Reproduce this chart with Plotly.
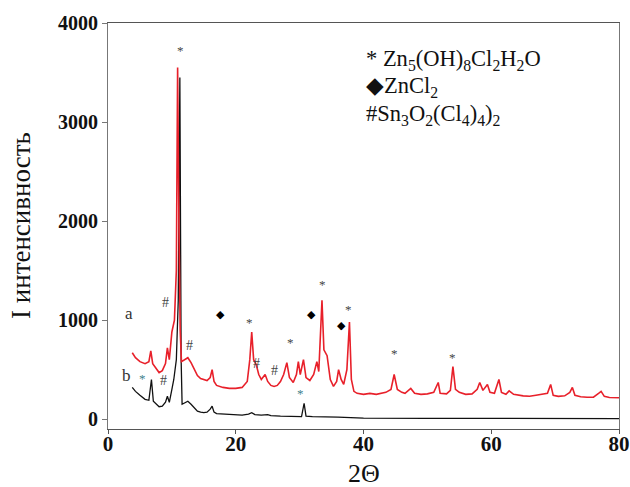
import plotly.graph_objects as go

# ---- data ----
red_x = [3.8, 4.3, 5.0, 5.8, 6.4, 6.7, 7.0, 7.5, 8.0, 8.5, 9.0, 9.3, 9.6, 10.0, 10.4, 10.7, 10.9, 11.1, 11.3,
         11.5, 12.0, 12.5, 13.0, 13.5, 14.0, 14.5, 15.0, 15.5, 16.0, 16.3, 16.6, 17.0, 18.0, 19.0, 20.0, 21.0,
         21.8, 22.2, 22.5, 22.8, 23.2, 23.6, 24.0, 24.6, 25.0, 25.5, 26.0, 26.5, 27.0, 27.5, 28.0, 28.4, 29.0,
         29.5, 29.8, 30.1, 30.6, 31.0, 31.6, 32.2, 32.7, 33.0, 33.5, 33.8, 34.3, 34.8, 35.3, 35.8, 36.1, 36.5,
         36.9, 37.4, 37.8, 38.1, 38.5, 39.0, 40, 41, 42, 43, 43.5, 44.3, 44.8, 45.3, 46, 46.5, 47.4, 48, 49, 50,
         51, 51.7, 52.0, 53, 53.6, 54.0, 54.4, 55, 56, 57, 57.8, 58.2, 58.7, 59.4, 59.8, 60.5, 61.2, 61.6, 62.3,
         62.8, 63.5, 65, 66, 67, 68, 68.8, 69.3, 69.7, 70.5, 71.5, 72.3, 72.7, 73.1, 74, 75, 76, 76.8, 77.2, 77.7,
         78.5, 80]
red_y = [670, 620, 580, 560, 580, 690, 560, 520, 470, 490, 560, 720, 600, 880, 1000, 1500, 3550, 2000, 900,
         580, 600, 620, 570, 500, 440, 410, 400, 390, 420, 500, 380, 340, 320, 310, 310, 320,
         380, 600, 880, 600, 550, 450, 400, 450, 380, 340, 330, 340, 380, 450, 570, 420, 370,
         450, 580, 450, 600, 420, 390, 450, 580, 480, 1200, 700, 640, 400, 330, 380, 500, 400,
         350, 500, 980, 400, 280, 260, 250, 260, 250, 260, 270, 300, 450, 300, 270, 260, 310, 260, 250, 255,
         270, 370, 260, 255, 290, 530, 300, 270, 250, 255, 300, 370, 290, 350, 270, 260, 400, 270, 250,
         285, 250, 235, 230, 240, 250, 260, 350, 240, 230, 235, 270, 320, 240, 225, 220, 222, 260, 280, 230,
         218, 215]

black_x = [3.8, 4.3, 5.0, 5.8, 6.4, 6.8, 7.1, 7.6, 8.0, 8.5, 9.0, 9.3, 9.6, 10.0, 10.3, 10.7, 11.0, 11.25,
           11.45, 11.6, 12.0, 12.5, 13.0, 13.5, 14.0, 14.5, 15.0, 15.5, 16.0, 16.3, 16.6, 17, 18, 19, 20, 21,
           22.0, 22.5, 23, 24, 25, 25.5, 27, 28, 29, 30.3, 30.7, 31.0, 32, 34, 36, 38, 40, 50, 60, 70, 80]
black_y = [320, 280, 240, 200, 190, 400, 180, 150, 125, 130, 170, 230, 170, 300, 400, 600, 1200, 3450,
           600, 150, 160, 180, 150, 110, 80, 70, 65, 70, 100, 130, 70, 55, 50, 45, 40, 40,
           50, 65, 45, 40, 45, 35, 30, 30, 25, 25, 160, 30, 25, 25, 20, 15, 10, 8, 6, 6, 5]

# phase markers above the peaks
star_x = [11.4, 22.2, 28.5, 33.6, 37.7, 44.9, 54.0]
star_y = [3723, 974, 772, 1362, 1102, 664, 624]
star_b_x = [5.4, 30.2]
star_b_y = [411, 260]
diam_x = [17.6, 31.8, 36.5]
diam_y = [1058, 1058, 950]
hash_x = [9.0, 8.7, 12.8, 23.3, 26.1]
hash_y = [1173, 394, 748, 563, 495]

curve_labels = ["a", "b"]
curve_label_x = [3.3, 2.9]
curve_label_y = [1068, 445]

legend_lines = ["* Zn<sub>5</sub>(OH)<sub>8</sub>Cl<sub>2</sub>H<sub>2</sub>O",
                "\u25C6ZnCl<sub>2</sub>",
                "#Sn<sub>3</sub>O<sub>2</sub>(Cl<sub>4</sub>)<sub>4</sub>)<sub>2</sub>"]

x_ticks = [0, 20, 40, 60, 80]
y_ticks = [0, 1000, 2000, 3000, 4000]
x_title = "2\u0398"
y_title = "I интенсивность"

SERIF = "Liberation Serif"
W, H = 630, 487
L, R, T, B = 108, 11, 23, 58
PW, PH = W - L - R, H - T - B


def px(xp):  # page pixel -> paper x
    return (xp - L) / PW


def py(yp):  # page pixel -> paper y
    return (T + PH - yp) / PH


fig = go.Figure()
fig.add_trace(go.Scatter(x=black_x, y=black_y, mode="lines",
                         line=dict(color="#111111", width=1.3), showlegend=False))
fig.add_trace(go.Scatter(x=red_x, y=red_y, mode="lines",
                         line=dict(color="#e8202a", width=1.6), showlegend=False))

ann = []
for x, y in zip(star_x, star_y):
    ann.append(dict(x=x, y=y, text="*", font=dict(family=SERIF, size=13, color="#444444")))
for x, y in zip(star_b_x, star_b_y):
    ann.append(dict(x=x, y=y, text="*", font=dict(family=SERIF, size=13, color="#3f7f8c")))
for x, y in zip(diam_x, diam_y):
    ann.append(dict(x=x, y=y, text="\u25C6", font=dict(family="DejaVu Sans", size=11, color="#000000")))
for x, y in zip(hash_x, hash_y):
    ann.append(dict(x=x, y=y, text="#", font=dict(family=SERIF, size=14, color="#444444")))
for t, x, y in zip(curve_labels, curve_label_x, curve_label_y):
    ann.append(dict(x=x, y=y, text=t, font=dict(family=SERIF, size=17, color="#333333")))
for a in ann:
    a.update(xref="x", yref="y", showarrow=False)

for i, t in enumerate(legend_lines):
    ann.append(dict(xref="paper", yref="paper", x=px(364), y=py(60 + 27.5 * i),
                    xanchor="left", yanchor="middle", text=t, showarrow=False,
                    font=dict(family=SERIF, size=22.5, color="#111111")))

# axis titles
ann.append(dict(xref="paper", yref="paper", x=px(364), y=py(474),
                xanchor="center", yanchor="middle", text=x_title, showarrow=False,
                font=dict(family=SERIF, size=26, color="#111111")))
ann.append(dict(xref="paper", yref="paper", x=px(21), y=py(226),
                xanchor="center", yanchor="middle", text=y_title, showarrow=False, textangle=-90,
                font=dict(family=SERIF, size=27, color="#111111")))

fig.update_layout(
    width=W, height=H,
    margin=dict(l=L, r=R, t=T, b=B, autoexpand=False),
    paper_bgcolor="white", plot_bgcolor="white",
    annotations=ann,
    xaxis=dict(range=[0, 80], tickvals=x_ticks, showgrid=False, zeroline=False, automargin=False,
               showline=True, linecolor="#555555", linewidth=1.2, mirror=True,
               ticks="outside", ticklen=4, tickcolor="#555555", ticklabelstandoff=-8,
               ticklabeloverflow="allow",
               tickfont=dict(family=SERIF, size=21, color="#111111", weight="bold")),
    yaxis=dict(range=[-100, 4000], tickvals=y_ticks, showgrid=False, zeroline=False, automargin=False,
               showline=True, linecolor="#777777", linewidth=1.2, mirror=True,
               ticks="outside", ticklen=5, tickcolor="#777777",
               tickfont=dict(family=SERIF, size=20, color="#111111", weight="bold")),
)

fig.write_html("out.html", config={"displayModeBar": False},
               post_script="document.body.style.margin='0px';document.body.style.overflow='hidden';")
